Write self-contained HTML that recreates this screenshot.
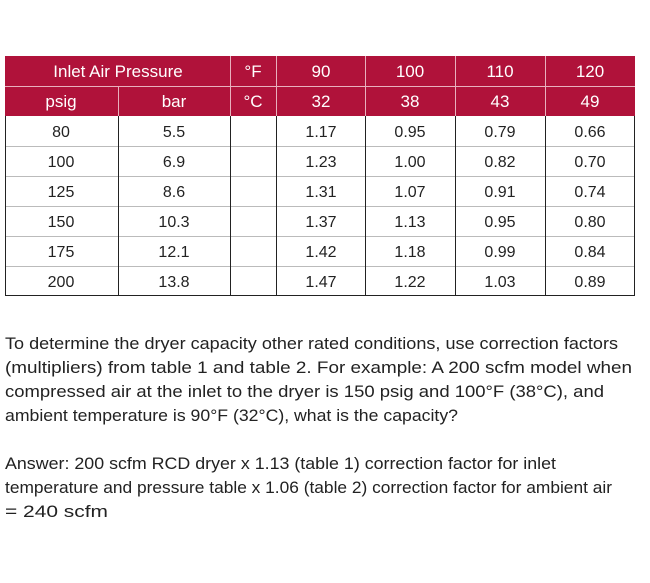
<!DOCTYPE html>
<html><head><meta charset="utf-8"><style>
html,body{margin:0;padding:0;background:#fff;}
svg{display:block;}
text{font-family:"Liberation Sans",sans-serif;}
</style></head><body>
<svg width="650" height="583" viewBox="0 0 650 583" xmlns="http://www.w3.org/2000/svg">
<rect x="5" y="56" width="630" height="60" fill="#b0123a"/>
<g stroke="#e8b0bd" stroke-width="1">
<line x1="5" y1="86.5" x2="635" y2="86.5"/>
<line x1="118.5" y1="86" x2="118.5" y2="116"/>
<line x1="230.5" y1="56" x2="230.5" y2="116"/>
<line x1="276.5" y1="56" x2="276.5" y2="116"/>
<line x1="365.5" y1="56" x2="365.5" y2="116"/>
<line x1="455.5" y1="56" x2="455.5" y2="116"/>
<line x1="545.5" y1="56" x2="545.5" y2="116"/>
</g>
<g stroke="#bbb" stroke-width="1">
<line x1="5" y1="146.5" x2="635" y2="146.5"/>
<line x1="5" y1="176.5" x2="635" y2="176.5"/>
<line x1="5" y1="206.5" x2="635" y2="206.5"/>
<line x1="5" y1="236.5" x2="635" y2="236.5"/>
<line x1="5" y1="266.5" x2="635" y2="266.5"/>
</g>
<g stroke="#222" stroke-width="1">
<line x1="5.5" y1="116" x2="5.5" y2="296"/>
<line x1="118.5" y1="116" x2="118.5" y2="296"/>
<line x1="230.5" y1="116" x2="230.5" y2="296"/>
<line x1="276.5" y1="116" x2="276.5" y2="296"/>
<line x1="365.5" y1="116" x2="365.5" y2="296"/>
<line x1="455.5" y1="116" x2="455.5" y2="296"/>
<line x1="545.5" y1="116" x2="545.5" y2="296"/>
<line x1="634.5" y1="116" x2="634.5" y2="296"/>
<line x1="5" y1="295.5" x2="635" y2="295.5"/>
</g>
<g fill="#fff" font-size="17" text-anchor="middle">
<text x="118" y="77">Inlet Air Pressure</text>
<text x="253" y="77">°F</text><text x="321" y="77">90</text><text x="410" y="77">100</text><text x="500" y="77">110</text><text x="590" y="77">120</text>
<text x="61" y="107">psig</text><text x="174" y="107">bar</text>
<text x="253" y="107">°C</text><text x="321" y="107">32</text><text x="410" y="107">38</text><text x="500" y="107">43</text><text x="590" y="107">49</text>
</g>
<g fill="#222" font-size="16" text-anchor="middle">
<text x="61" y="137">80</text><text x="174" y="137">5.5</text><text x="321" y="137">1.17</text><text x="410" y="137">0.95</text><text x="500" y="137">0.79</text><text x="590" y="137">0.66</text>
<text x="61" y="167">100</text><text x="174" y="167">6.9</text><text x="321" y="167">1.23</text><text x="410" y="167">1.00</text><text x="500" y="167">0.82</text><text x="590" y="167">0.70</text>
<text x="61" y="197">125</text><text x="174" y="197">8.6</text><text x="321" y="197">1.31</text><text x="410" y="197">1.07</text><text x="500" y="197">0.91</text><text x="590" y="197">0.74</text>
<text x="61" y="227">150</text><text x="174" y="227">10.3</text><text x="321" y="227">1.37</text><text x="410" y="227">1.13</text><text x="500" y="227">0.95</text><text x="590" y="227">0.80</text>
<text x="61" y="257">175</text><text x="174" y="257">12.1</text><text x="321" y="257">1.42</text><text x="410" y="257">1.18</text><text x="500" y="257">0.99</text><text x="590" y="257">0.84</text>
<text x="61" y="287">200</text><text x="174" y="287">13.8</text><text x="321" y="287">1.47</text><text x="410" y="287">1.22</text><text x="500" y="287">1.03</text><text x="590" y="287">0.89</text>
</g>
<g fill="#222" font-size="17">
<text x="5" y="349" textLength="613" lengthAdjust="spacingAndGlyphs">To determine the dryer capacity other rated conditions, use correction factors</text>
<text x="5" y="373" textLength="627" lengthAdjust="spacingAndGlyphs">(multipliers) from table 1 and table 2. For example: A 200 scfm model when</text>
<text x="5" y="397" textLength="599" lengthAdjust="spacingAndGlyphs">compressed air at the inlet to the dryer is 150 psig and 100°F (38°C), and</text>
<text x="5" y="421" textLength="453" lengthAdjust="spacingAndGlyphs">ambient temperature is 90°F (32°C), what is the capacity?</text>
<text x="5" y="469" textLength="551" lengthAdjust="spacingAndGlyphs">Answer: 200 scfm RCD dryer x 1.13 (table 1) correction factor for inlet</text>
<text x="5" y="493" textLength="607" lengthAdjust="spacingAndGlyphs">temperature and pressure table x 1.06 (table 2) correction factor for ambient air</text>
<text x="5" y="517" textLength="103" lengthAdjust="spacingAndGlyphs">= 240 scfm</text>
</g>
</svg>
</body></html>
